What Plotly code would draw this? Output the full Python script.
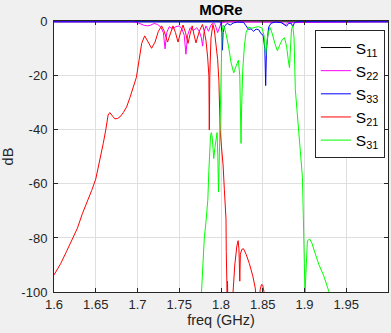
import plotly.graph_objects as go

# Frequency axis in GHz, magnitude in dB
s11_freq = [1.600, 2.000]
s11_db = [0.0, 0.0]

s22_freq = [1.600, 1.695, 1.700, 1.704, 1.708, 1.712, 1.716, 1.720, 1.724, 1.728,
            1.731, 1.733, 1.735, 1.738, 1.742, 1.746, 1.750, 1.753, 1.756, 1.758,
            1.760, 1.763, 1.767, 1.771, 1.774, 1.7765, 1.778, 1.7795, 1.782, 1.785,
            1.788, 1.7905, 1.793, 1.796, 1.798, 1.800, 1.805, 1.810, 1.874, 1.877,
            1.880, 2.000]
s22_db = [0.0, 0.0, -0.3, -0.8, -1.3, -1.5, -1.2, -0.6, -1.0, -2.0,
          -4.0, -10.0, -4.0, -1.8, -2.6, -1.8, -1.5, -2.5, -5.0, -12.0,
          -5.0, -2.2, -3.2, -2.2, -3.5, -6.0, -9.0, -4.0, -1.5, -3.5,
          -1.2, -0.3, -1.0, -4.0, -2.0, -0.5, -0.1, 0.0, -0.2, -1.2,
          -0.3, 0.0]

s33_freq = [1.600, 1.7985, 1.800, 1.801, 1.8017, 1.8025, 1.8045, 1.8075, 1.811, 1.815,
            1.820, 1.827, 1.830, 1.833, 1.836, 1.839, 1.842, 1.845, 1.848, 1.8505,
            1.8525, 1.8535, 1.8545, 1.857, 1.860, 1.865, 1.872, 1.876, 1.8785, 1.881,
            1.884, 1.886, 1.888, 1.892, 2.000]
s33_db = [0.0, 0.0, -0.6, -4.0, -10.5, -4.0, -1.5, -0.6, -1.2, -0.4,
          -0.1, -0.2, -1.5, -2.8, -2.6, -3.5, -2.7, -2.9, -4.4, -5.0,
          -10.0, -23.6, -10.0, -2.0, -0.5, -0.1, -0.3, -1.0, -1.6, -0.6,
          -0.5, -1.8, -0.3, 0.0, 0.0]

s21_freq = [1.6000, 1.6080, 1.6150, 1.6220, 1.6280, 1.6340, 1.6400, 1.6450, 1.6500, 1.6550,
            1.6590, 1.6620, 1.6648, 1.6668, 1.6690, 1.6728, 1.6760, 1.6790, 1.6830, 1.6870,
            1.6910, 1.6946, 1.6987, 1.7020, 1.7050, 1.7086, 1.7120, 1.7169, 1.7210, 1.7250,
            1.7289, 1.7320, 1.7360, 1.7395, 1.7425, 1.7455, 1.7485, 1.7515, 1.7545, 1.7575,
            1.7605, 1.7630, 1.7655, 1.7675, 1.7700, 1.7740, 1.7778, 1.7800, 1.7820, 1.7840,
            1.7855, 1.7860, 1.7866, 1.7880, 1.7903, 1.7920, 1.7940, 1.7960, 1.7975, 1.7990,
            1.8005, 1.8025, 1.8040, 1.8055, 1.8060, 1.8063, 1.8066, 1.8068, 1.8075, 1.8078,
            1.8082, 1.8136, 1.8150, 1.8165, 1.8190, 1.8205, 1.8215, 1.8225, 1.8232, 1.8250,
            1.8270, 1.8300, 1.8340, 1.8380, 1.8410, 1.8425, 1.8455, 1.8470, 1.8485, 1.8500,
            1.8515, 1.8525]
s21_db = [-93.7, -89.5, -85.0, -80.5, -76.4, -71.0, -66.5, -62.5, -58.2, -51.3,
          -45.0, -40.0, -34.5, -33.6, -34.5, -35.9, -35.8, -35.2, -33.6, -31.5,
          -28.0, -24.2, -20.5, -14.0, -8.0, -5.2, -7.0, -9.8, -7.5, -3.5,
          -1.5, -3.5, -7.5, -4.0, -1.5, -4.0, -7.5, -4.0, -1.2, -4.0,
          -8.0, -4.5, -1.5, -4.5, -7.8, -3.5, -1.0, -3.5, -7.0, -13.0,
          -20.0, -40.0, -20.0, -6.0, -1.0, -3.0, -8.0, -14.0, -22.0, -40.0,
          -46.0, -53.0, -62.0, -68.0, -73.0, -85.0, -96.0, -104.0, -104.0, -96.0,
          -104.0, -104.0, -96.0, -90.0, -83.0, -81.0, -84.0, -96.0, -86.0, -84.2,
          -84.0, -86.0, -89.5, -94.0, -98.5, -104.0, -104.0, -99.0, -97.2, -97.5,
          -100.0, -104.0]

s31_freq = [1.7760, 1.7770, 1.7785, 1.7800, 1.7822, 1.7842, 1.7855, 1.7865, 1.7875, 1.7885,
            1.7895, 1.7905, 1.7913, 1.7925, 1.7940, 1.7953, 1.7962, 1.7970, 1.7980, 1.7993,
            1.8003, 1.8012, 1.8025, 1.8040, 1.8060, 1.8090, 1.8120, 1.8152, 1.8180, 1.8208,
            1.8225, 1.8235, 1.8240, 1.8246, 1.8260, 1.8280, 1.8300, 1.8330, 1.8370, 1.8410,
            1.8450, 1.8490, 1.8515, 1.8535, 1.8555, 1.8585, 1.8615, 1.8645, 1.8675, 1.8705,
            1.8735, 1.8760, 1.8785, 1.8805, 1.8820, 1.8835, 1.8845, 1.8860, 1.8875, 1.8890,
            1.8916, 1.8940, 1.8956, 1.8975, 1.8987, 1.8995, 1.9005, 1.9008, 1.9012, 1.9022,
            1.9035, 1.9063, 1.9090, 1.9115, 1.9174, 1.9234, 1.9294, 1.9310]
s31_db = [-104.0, -97.0, -88.0, -80.0, -73.4, -66.0, -55.0, -47.6, -42.0, -41.0,
          -43.0, -47.0, -50.6, -47.0, -44.0, -41.0, -50.0, -63.0, -50.0, -33.0,
          -15.0, -4.0, -1.2, -2.0, -4.5, -9.0, -15.0, -18.9, -16.5, -14.2,
          -20.0, -35.0, -45.0, -33.0, -18.0, -9.0, -4.0, -2.0, -2.4, -2.0,
          -1.8, -2.3, -5.0, -12.5, -6.0, -2.0, -4.5, -8.0, -10.7, -8.5,
          -6.5, -5.9, -9.0, -14.0, -17.0, -8.0, -2.5, -1.5, -6.0, -25.0,
          -35.3, -43.0, -50.0, -57.5, -73.4, -88.0, -100.0, -104.0, -96.0, -88.0,
          -81.0, -80.4, -82.0, -84.5, -90.0, -94.3, -100.0, -104.0]

x_ticks = [1.6, 1.65, 1.7, 1.75, 1.8, 1.85, 1.9, 1.95]
x_tick_text = ["1.6", "1.65", "1.7", "1.75", "1.8", "1.85", "1.9", "1.95"]
y_ticks = [0, -20, -40, -60, -80, -100]
y_tick_text = ["0", "-20", "-40", "-60", "-80", "-100"]

series = [
    ("S<sub>11</sub>", s11_freq, s11_db, "#000000"),
    ("S<sub>22</sub>", s22_freq, s22_db, "#ff00ff"),
    ("S<sub>33</sub>", s33_freq, s33_db, "#0000ff"),
    ("S<sub>21</sub>", s21_freq, s21_db, "#ff0000"),
    ("S<sub>31</sub>", s31_freq, s31_db, "#00ff00"),
]

fig = go.Figure()
for name, f, db, color in series:
    fig.add_trace(go.Scatter(x=f, y=db, mode="lines", name=name,
                             line=dict(color=color, width=1)))

font_family = "Liberation Sans, Arial, sans-serif"
axis_common = dict(
    showgrid=True, gridcolor="#dfdfdf", gridwidth=1,
    showline=True, linecolor="#262626", linewidth=1, mirror="ticks",
    ticks="inside", ticklen=4, tickcolor="#262626",
    zeroline=False, tickfont=dict(size=13, color="#262626", family=font_family),
)

fig.update_layout(
    width=391, height=333,
    margin=dict(l=54, r=3, t=21, b=41),
    paper_bgcolor="#f0f0f0", plot_bgcolor="#ffffff",
    font=dict(family=font_family, color="#262626"),
    title=dict(text="<b>MORe</b>", x=0.565, xanchor="center", y=0.97, yanchor="middle",
               font=dict(size=15, color="#000000")),
    xaxis=dict(range=[1.6, 2.0], tickvals=x_ticks, ticktext=x_tick_text,
               title=dict(text="freq (GHz)", font=dict(size=14.5), standoff=4),
               **axis_common),
    yaxis=dict(range=[-100, 0.3], tickvals=y_ticks, ticktext=y_tick_text,
               title=dict(text="dB", font=dict(size=14.5), standoff=6),
               ticklabelstandoff=3, **axis_common),
    legend=dict(x=0.781, y=0.967, xanchor="left", yanchor="top",
                bgcolor="#ffffff", bordercolor="#262626", borderwidth=1,
                font=dict(size=15.5, color="#000000", family=font_family),
                itemwidth=30, tracegroupgap=0),
    showlegend=True,
)

fig.write_html("out.html")
